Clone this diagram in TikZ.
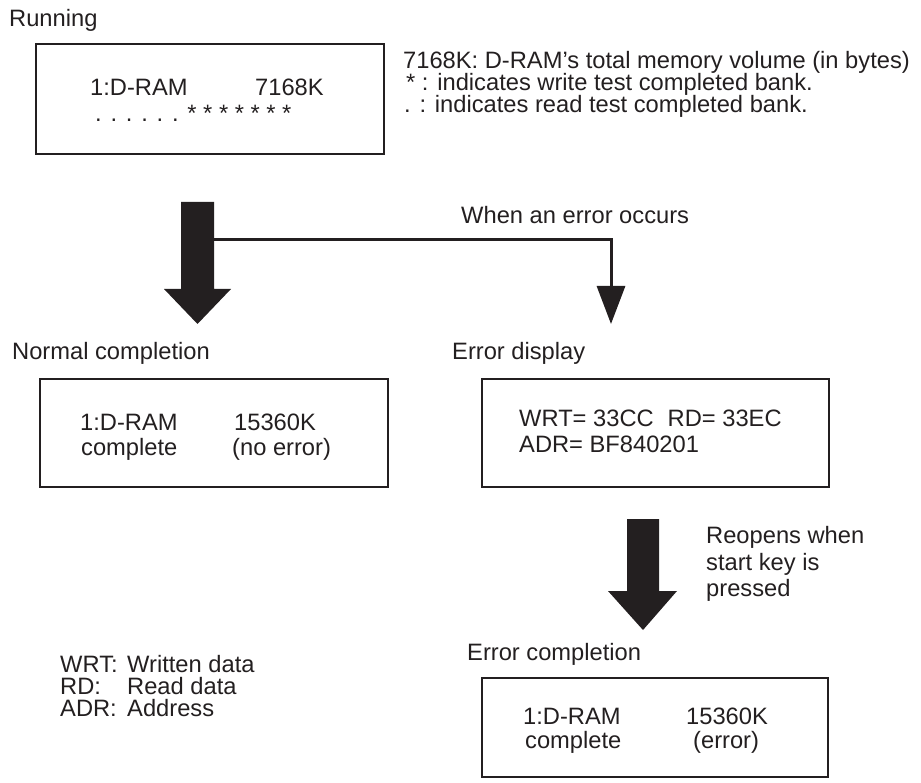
\documentclass[tikz,border=0pt]{standalone}
\usepackage{fontspec}
\setmainfont{Liberation Sans}
\usetikzlibrary{arrows.meta}
\definecolor{ink}{HTML}{231F20}
\begin{document}
\begin{tikzpicture}[x=1pt,y=-1pt,
  lbl/.style={inner sep=0pt, anchor=base west, text=ink, font=\fontsize{23.7}{26}\selectfont},
  box/.style={draw=ink, line width=1.8pt, inner sep=0pt, anchor=north west},
  conn/.style={draw=ink, line width=3pt, -{Triangle[length=38pt,width=28pt]}},
  bigarrow/.style={fill=ink}]
\useasboundingbox (0,0) rectangle (921,783);

% Running
\node[lbl] (trun) at (9,27) {Running};
\node[box, minimum width=348pt, minimum height=110pt] (brun) at (35,43) {};
\node[lbl] (r1a) at (90,96) {1:D-RAM};
\node[lbl] (r1b) at (255,96) {7168K};
\node[lbl] (r2) at (95,122) {. . . . . . * * * * * * *};

\node[lbl] (n1) at (403,69) {7168K: D-RAM’s total memory volume (in bytes)};
\node[lbl] (n2) at (406,91) {* : indicates write test completed bank.};
\node[lbl] (n3) at (404,113) {. : indicates read test completed bank.};

% big arrow 1
\fill[bigarrow] (181,202) -- (214,202) -- (214,289) -- (231,289) -- (197.5,324) -- (164,289) -- (181,289) -- cycle;
\coordinate (split) at (214,240);
\coordinate (errtip) at (611,324);
\draw[conn] (split) -| (errtip);
\node[lbl] (twhen) at (461,224) {When an error occurs};

% Normal completion
\node[lbl] (tnorm) at (12,360) {Normal completion};
\node[box, minimum width=348pt, minimum height=108pt] (bnorm) at (39,378) {};
\node[lbl] (nm1) at (80,430) {1:D-RAM};
\node[lbl] (nm2) at (81,455) {complete};
\node[lbl] (nm3) at (234,430) {15360K};
\node[lbl] (nm4) at (232,455) {(no error)};

% Error display
\node[lbl] (terr) at (452,360) {Error display};
\node[box, minimum width=347pt, minimum height=108pt] (berr) at (481,378) {};
\node[lbl] (e1) at (519,427) {WRT= 33CC\hspace{14pt}RD= 33EC};
\node[lbl] (e2) at (519,452) {ADR= BF840201};

% big arrow 2
\fill[bigarrow] (627,519) -- (659,519) -- (659,591) -- (677,591) -- (643,630) -- (608,591) -- (627,591) -- cycle;
\node[lbl] (re1) at (706,543) {Reopens when};
\node[lbl] (re2) at (706,570) {start key is};
\node[lbl] (re3) at (706,596) {pressed};

% Error completion
\node[lbl] (tec) at (467,660) {Error completion};
\node[box, minimum width=346pt, minimum height=99pt] (bec) at (481,677) {};
\node[lbl] (ec1) at (523,724) {1:D-RAM};
\node[lbl] (ec2) at (525,748) {complete};
\node[lbl] (ec3) at (686,724) {15360K};
\node[lbl] (ec4) at (693,748) {(error)};

% Legend
\node[lbl] (l1a) at (60,672) {WRT:};
\node[lbl] (l1b) at (127,672) {Written data};
\node[lbl] (l2a) at (60,694) {RD:};
\node[lbl] (l2b) at (127,694) {Read data};
\node[lbl] (l3a) at (60,716) {ADR:};
\node[lbl] (l3b) at (127,716) {Address};
\end{tikzpicture}
\end{document}
